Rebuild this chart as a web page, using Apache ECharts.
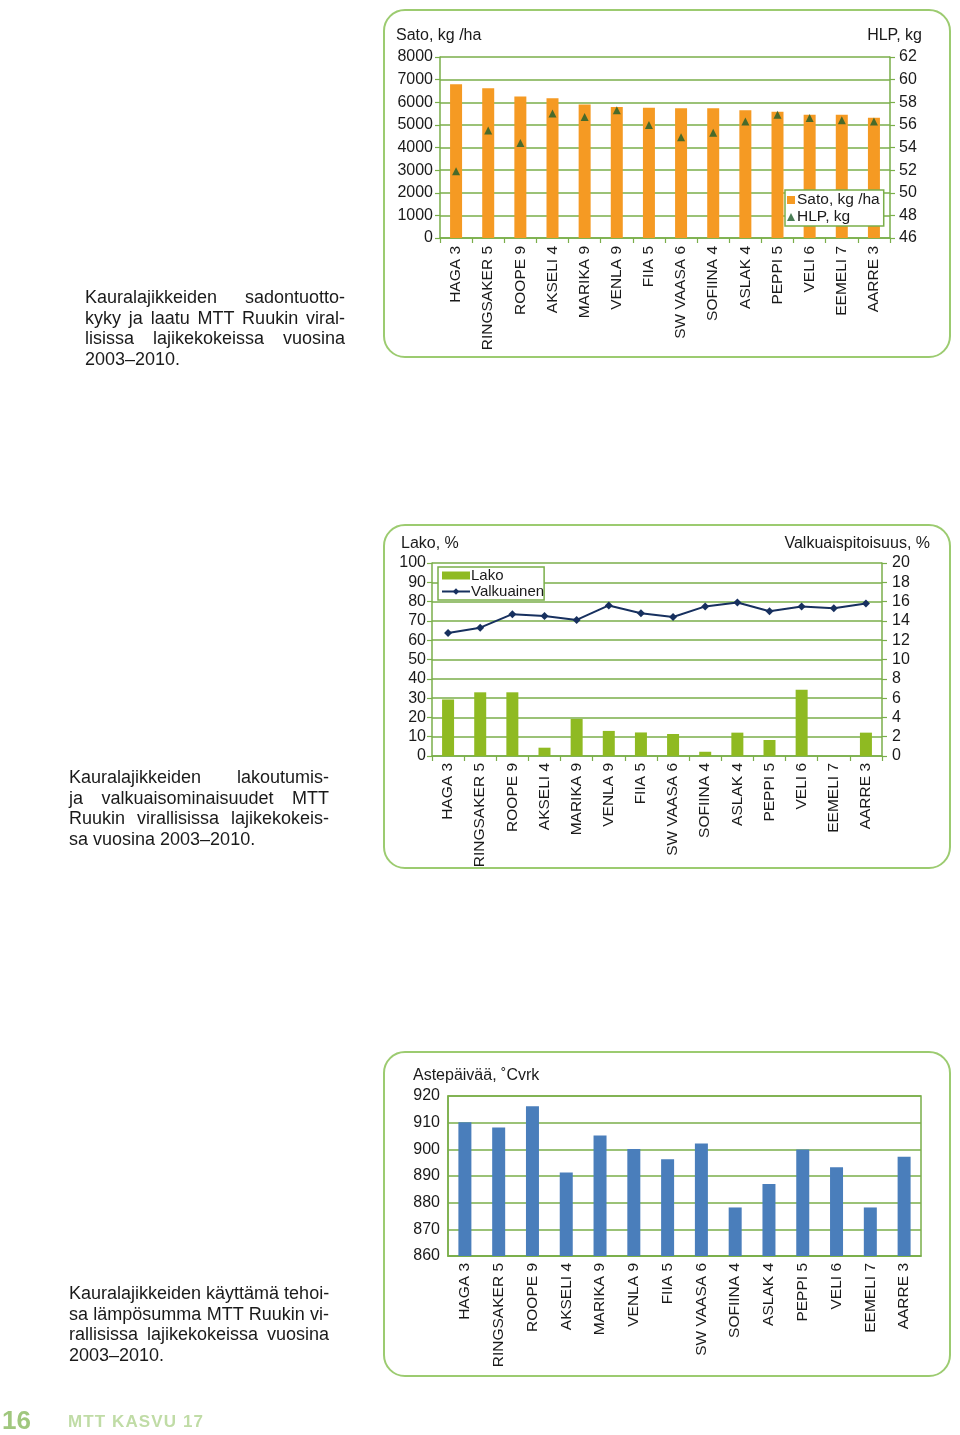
<!DOCTYPE html>
<html>
<head>
<meta charset="utf-8">
<script src="https://cdn.jsdelivr.net/npm/echarts@6/dist/echarts.min.js"></script>
<style>
  html, body { margin: 0; padding: 0; background: #fff; }
  #page { position: relative; width: 960px; height: 1435px; overflow: hidden; font-family: 'Liberation Sans', Arial, Helvetica, sans-serif; color: #1a1a1a; }
  .panel { position: absolute; border: 2px solid #9ccb70; border-radius: 22px; box-sizing: border-box; background: #fff; }
  #chart { position: absolute; left: 0; top: 0; width: 960px; height: 1435px; }
  .t { position: absolute; font-size: 16px; line-height: 20px; white-space: nowrap; }
  .cap { position: absolute; width: 260px; font-size: 18px; line-height: 20.6px; }
  .cap div { text-align: justify; text-align-last: justify; white-space: nowrap; }
  .cap div.last { text-align-last: left; }
  .foot1 { position: absolute; left: 2px; top: 1406px; font-size: 26px; font-weight: bold; color: #a0c77e; line-height: 28px; }
  .foot2 { position: absolute; left: 68px; top: 1411px; font-size: 17px; font-weight: bold; color: #c0dca6; line-height: 22px; letter-spacing: 1.1px; }
</style>
</head>
<body>
<div id="page">
  <div class="panel" style="left:383px;top:9px;width:568px;height:349px;"></div>
  <div class="panel" style="left:383px;top:524px;width:568px;height:345px;"></div>
  <div class="panel" style="left:383px;top:1051px;width:568px;height:326px;"></div>
  <div id="chart"></div>

  <div class="t" style="left:396px;top:25px;">Sato, kg /ha</div>
  <div class="t" style="right:38px;top:25px;">HLP, kg</div>
  <div class="t" style="left:401px;top:533px;">Lako, %</div>
  <div class="t" style="right:30px;top:533px;">Valkuaispitoisuus, %</div>
  <div class="t" style="left:413px;top:1065px;">Astepäivää, ˚Cvrk</div>

  <div class="cap" style="left:85px;top:287px;">
    <div>Kauralajikkeiden sadontuotto-</div>
    <div>kyky ja laatu MTT Ruukin viral-</div>
    <div>lisissa lajikekokeissa vuosina</div>
    <div class="last">2003–2010.</div>
  </div>
  <div class="cap" style="left:69px;top:767px;">
    <div>Kauralajikkeiden lakoutumis-</div>
    <div>ja valkuaisominaisuudet MTT</div>
    <div>Ruukin virallisissa lajikekokeis-</div>
    <div class="last">sa vuosina 2003–2010.</div>
  </div>
  <div class="cap" style="left:69px;top:1283px;">
    <div>Kauralajikkeiden käyttämä tehoi-</div>
    <div>sa lämpösumma MTT Ruukin vi-</div>
    <div>rallisissa lajikekokeissa vuosina</div>
    <div class="last">2003–2010.</div>
  </div>

  <div class="foot1">16</div>
  <div class="foot2">MTT KASVU 17</div>
</div>
<script>
const categories = ['HAGA 3','RINGSAKER 5','ROOPE 9','AKSELI 4','MARIKA 9','VENLA 9','FIIA 5','SW VAASA 6','SOFIINA 4','ASLAK 4','PEPPI 5','VELI 6','EEMELI 7','AARRE 3'];
const satoValues = [6800, 6620, 6255, 6180, 5900, 5785, 5755, 5740, 5740, 5650, 5580, 5450, 5450, 5310];
const hlpValues = [51.9, 55.5, 54.4, 57.0, 56.7, 57.3, 56.0, 54.9, 55.3, 56.3, 56.9, 56.6, 56.4, 56.3];
const lakoValues = [29.3, 33.0, 33.0, 4.3, 19.2, 13.0, 12.2, 11.4, 2.2, 12.1, 8.3, 34.3, 0, 12.1];
const valkuainenValues = [12.75, 13.3, 14.7, 14.5, 14.1, 15.6, 14.8, 14.4, 15.5, 15.9, 15.0, 15.5, 15.3, 15.8];
const astepaivaValues = [910.2, 908.2, 916.2, 891.3, 905.2, 900.1, 896.3, 902.2, 878.2, 887.0, 899.9, 893.3, 878.2, 897.2];

const FONT = "'Liberation Sans', Arial, Helvetica, sans-serif";
const GREEN = '#7aae4a';
const TXT = '#1a1a1a';

function catAxis(gridIndex, margin, ticks) {
  return {
    type: 'category', gridIndex: gridIndex, data: categories,
    axisLine: { show: true, lineStyle: { color: GREEN, width: 1.5 } },
    axisTick: { show: ticks, length: 5, lineStyle: { color: GREEN, width: 1.2 } },
    axisLabel: { interval: 0, rotate: 90, margin: margin, fontSize: 15.5, color: TXT, fontFamily: FONT }
  };
}
function valAxis(gridIndex, pos, min, max, interval, split, ticks, margin) {
  return {
    type: 'value', gridIndex: gridIndex, position: pos, min: min, max: max, interval: interval,
    axisLine: { show: true, lineStyle: { color: GREEN, width: 1.5 } },
    axisTick: { show: ticks, length: 5, lineStyle: { color: GREEN, width: 1.2 } },
    splitLine: { show: split, lineStyle: { color: GREEN, width: 1.5 } },
    axisLabel: { margin: margin, fontSize: 16, color: TXT, fontFamily: FONT, formatter: function (v) { return String(v); } }
  };
}

const chart = echarts.init(document.getElementById('chart'), null, { renderer: 'canvas' });
chart.setOption({
  animation: false,
  textStyle: { fontFamily: FONT },
  grid: [
    { left: 440, right: 70, top: 57, height: 181 },
    { left: 432, right: 78, top: 563, height: 193 },
    { left: 448, right: 39, top: 1096, height: 160, show: true, borderColor: GREEN, borderWidth: 1.5 }
  ],
  xAxis: [
    catAxis(0, 8, true),
    catAxis(1, 7, true),
    catAxis(2, 7, false)
  ],
  yAxis: [
    valAxis(0, 'left', 0, 8000, 1000, true, true, 7),
    valAxis(0, 'right', 46, 62, 2, false, true, 9),
    valAxis(1, 'left', 0, 100, 10, true, true, 6),
    valAxis(1, 'right', 0, 20, 2, false, true, 10),
    valAxis(2, 'left', 860, 920, 10, true, false, 8)
  ],
  legend: [
    {
      data: [{ name: 'Sato, kg /ha', icon: 'rect' }, { name: 'HLP, kg', icon: 'triangle' }],
      orient: 'vertical', left: 785, top: 190,
      backgroundColor: '#fff', borderColor: GREEN, borderWidth: 1.5,
      padding: [2, 4, 1, 2], itemGap: 1, itemWidth: 8, itemHeight: 8,
      textStyle: { fontSize: 15.5, color: TXT, fontFamily: FONT, padding: [0, 0, 0, -3] }
    },
    {
      data: [{ name: 'Lako', icon: 'rect' }, { name: 'Valkuainen' }],
      orient: 'vertical', left: 438, top: 567,
      backgroundColor: '#fff', borderColor: GREEN, borderWidth: 1.5,
      padding: [1, 0, 1, 3], itemGap: 1, itemWidth: 28, itemHeight: 8,
      textStyle: { fontSize: 15, color: TXT, fontFamily: FONT, padding: [0, 0, 0, -4] }
    }
  ],
  series: [
    { name: 'Sato, kg /ha', type: 'bar', xAxisIndex: 0, yAxisIndex: 0, data: satoValues, barWidth: 12, itemStyle: { color: '#f59a23' } },
    { name: 'HLP, kg', type: 'scatter', xAxisIndex: 0, yAxisIndex: 1, data: hlpValues, symbol: 'triangle', symbolSize: 8, itemStyle: { color: '#1d5e2c' }, z: 5 },
    { name: 'Lako', type: 'bar', xAxisIndex: 1, yAxisIndex: 2, data: lakoValues, barWidth: 12, itemStyle: { color: '#8fba22' } },
    { name: 'Valkuainen', type: 'line', xAxisIndex: 1, yAxisIndex: 3, data: valkuainenValues, symbol: 'diamond', symbolSize: 8, showAllSymbol: true,
      lineStyle: { color: '#17305f', width: 2 }, itemStyle: { color: '#17305f' }, z: 5 },
    { name: 'Astepäivää', type: 'bar', xAxisIndex: 2, yAxisIndex: 4, data: astepaivaValues, barWidth: 13, itemStyle: { color: '#4a7ebb' } }
  ]
});
</script>
</body>
</html>
